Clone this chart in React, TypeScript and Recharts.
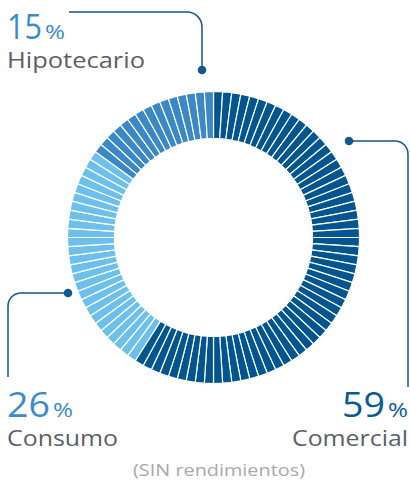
import { PieChart, Pie, Cell } from "recharts";

const categories = ["Comercial", "Consumo", "Hipotecario"];
const shares = [59, 26, 15];
const colors = ["#02558e", "#6dc0eb", "#3a88c6"];
const footnote = "(SIN rendimientos)";

// one thin tick per percentage point
const ticks = categories.flatMap((name, i) =>
  Array.from({ length: shares[i] }, () => ({ name, value: 1, color: colors[i] }))
);

const LINE = "#14568e";
const GRAY = "#5b5f64";
const FONT = "'Open Sans', sans-serif";

// x = left edge of number, widths are what the reference text measures
function Label({
  x,
  y,
  pct,
  name,
  color,
  numW,
  nameX,
  nameW,
}: {
  x: number;
  y: number;
  pct: number;
  name: string;
  color: string;
  numW: number;
  nameX: number;
  nameW: number;
}) {
  return (
    <g fontFamily={FONT}>
      <text x={x} y={y} fill={color}>
        <tspan fontSize={35} textLength={numW} lengthAdjust="spacingAndGlyphs">
          {pct}
        </tspan>
        <tspan x={x + numW + 3} fontSize={20} textLength={20} lengthAdjust="spacingAndGlyphs">
          %
        </tspan>
      </text>
      <text x={nameX} y={y + 29} fill={GRAY} fontSize={21.5} textLength={nameW} lengthAdjust="spacingAndGlyphs">
        {name}
      </text>
    </g>
  );
}

export default function App() {
  return (
    <div style={{ position: "absolute", left: 0, top: 0, width: 410, height: 482, background: "#fff" }}>
      <PieChart width={410} height={482} margin={{ top: 0, right: 0, bottom: 0, left: 0 }}>
        <Pie
          data={ticks}
          dataKey="value"
          nameKey="name"
          cx={213.5}
          cy={237.5}
          innerRadius={99}
          outerRadius={146}
          startAngle={90}
          endAngle={-270}
          stroke="#ffffff"
          strokeWidth={1.2}
          isAnimationActive={false}
        >
          {ticks.map((t, i) => (
            <Cell key={i} fill={t.color} />
          ))}
        </Pie>
      </PieChart>
      <svg width={410} height={482} style={{ position: "absolute", left: 0, top: 0, pointerEvents: "none" }}>
        <g fill="none" stroke={LINE} strokeWidth={1.5}>
          <path d="M69 12 H187 A15 15 0 0 1 202 27 V70" />
          <path d="M349 141 H395 A13 13 0 0 1 408 154 V387" />
          <path d="M68 293 H21 A13 13 0 0 0 8 306 V377" />
        </g>
        <g fill={LINE}>
          <circle cx={202} cy={70} r={4.3} />
          <circle cx={349} cy={141} r={4.3} />
          <circle cx={68} cy={293} r={4.3} />
        </g>
        <Label x={7} y={39} pct={shares[2]} name={categories[2]} color="#3a8bcb" numW={35} nameX={7} nameW={138} />
        <Label x={7} y={417} pct={shares[1]} name={categories[1]} color="#3a8bcb" numW={43} nameX={7} nameW={111} />
        <Label x={342} y={417} pct={shares[0]} name={categories[0]} color="#0a5b95" numW={43} nameX={292} nameW={116} />
        <text x={133} y={476} fill="#a9a9a9" fontSize={17} fontFamily={FONT} textLength={172} lengthAdjust="spacingAndGlyphs">
          {footnote}
        </text>
      </svg>
    </div>
  );
}
